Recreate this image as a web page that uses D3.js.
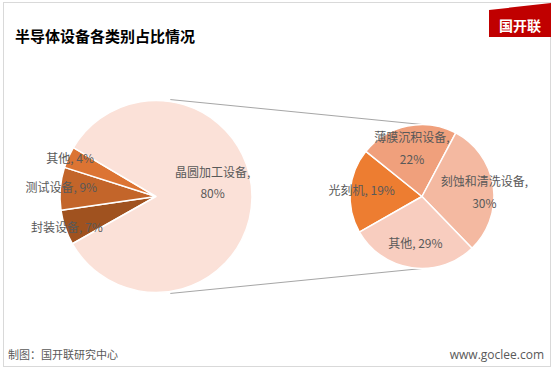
<!DOCTYPE html>
<html lang="zh">
<head>
    <meta charset="UTF-8">
    <title>半导体设备各类别占比情况</title>
    <script src="https://d3js.org/d3.v7.min.js"></script>
    <style>
        body { margin: 0; background: #fff; }
        svg { display: block; font-family: "Noto Sans CJK SC", "Noto Sans", sans-serif; }
        .label { font-size: 12px; fill: #595959; text-anchor: middle; dominant-baseline: central; }
        .title { font-size: 15px; font-weight: bold; fill: #000; }
        .footer { font-size: 11px; fill: #595959; }
    </style>
</head>
<body>
    <svg id="chart" width="554" height="370"></svg>

    <script>
        // main pie (clockwise, starting at lower left)
        const mainNames = ["封装设备", "测试设备", "其他", "晶圆加工设备"];
        const mainPct = ["7%", "9%", "4%", "80%"];
        const mainShare = [5.9, 7.2, 3.6, 83.3];
        const mainColors = ["#A0521F", "#C3652A", "#DC7433", "#FBE1D8"];

        // secondary pie: split of 晶圆加工设备
        const subNames = ["光刻机", "薄膜沉积设备", "刻蚀和清洗设备", "其他"];
        const subPct = ["19%", "22%", "30%", "29%"];
        const subShare = [19, 22, 30, 29];
        const subColors = ["#ED7D31", "#F0A07C", "#F4B9A1", "#F8CDBF"];

        const svg = d3.select("#chart");
        const deg = Math.PI / 180;

        // frame
        svg.append("rect")
            .attr("x", 3.5).attr("y", 2.5)
            .attr("width", 547).attr("height", 364)
            .attr("fill", "#fff")
            .attr("stroke", "#d9d9d9");

        svg.append("text")
            .attr("class", "title")
            .attr("x", 15).attr("y", 42)
            .text("半导体设备各类别占比情况");

        // logo tag
        svg.append("path")
            .attr("d", "M489,10 L551,3 L551,37 L489,37 Z")
            .attr("fill", "#C00000");
        svg.append("text")
            .attr("x", 520).attr("y", 25)
            .attr("text-anchor", "middle")
            .attr("dominant-baseline", "central")
            .attr("fill", "#fff")
            .style("font-size", "14px")
            .style("font-weight", "bold")
            .text("国开联");

        const main = { cx: 156, cy: 196.5, r: 96 };
        const sub = { cx: 422, cy: 196.5, r: 72 };

        // connector lines (drawn first so the pies sit on top)
        const connAngle = 8.4 * deg;
        const pt = (c, a, r) => [c.cx + r * Math.sin(a), c.cy - r * Math.cos(a)];
        const connectors = [
            [pt(main, connAngle, main.r + 2), [sub.cx, sub.cy - sub.r]],
            [pt(main, Math.PI - connAngle, main.r + 2), [sub.cx, sub.cy + sub.r]]
        ];
        svg.selectAll(".conn")
            .data(connectors)
            .join("line")
            .attr("class", "conn")
            .attr("x1", d => d[0][0]).attr("y1", d => d[0][1])
            .attr("x2", d => d[1][0]).attr("y2", d => d[1][1])
            .attr("stroke", "#a6a6a6")
            .attr("stroke-width", 1);

        function drawPie(c, shares, colors, start, names, pcts, labelR, labelDy, twoLine) {
            const pie = d3.pie().sort(null)
                .startAngle(start).endAngle(start + 2 * Math.PI);
            const arcs = pie(shares);
            const arc = d3.arc().innerRadius(0).outerRadius(c.r);
            const g = svg.append("g").attr("transform", `translate(${c.cx},${c.cy})`);

            g.selectAll("path")
                .data(arcs)
                .join("path")
                .attr("d", arc)
                .attr("fill", (d, i) => colors[i])
                .attr("stroke", "#fff")
                .attr("stroke-width", 1.5)
                .attr("stroke-linejoin", "round");

            arcs.forEach((d, i) => {
                const lr = labelR[i] * c.r;
                const a = (d.startAngle + d.endAngle) / 2;
                const x = lr * Math.sin(a), y = -lr * Math.cos(a) + labelDy[i];
                const t = g.append("text").attr("class", "label");
                if (twoLine[i]) {
                    t.append("tspan").attr("x", x).attr("y", y - 10.5).text(names[i] + ",");
                    t.append("tspan").attr("x", x).attr("y", y + 11).text(pcts[i]);
                } else {
                    t.attr("x", x).attr("y", y).text(names[i] + ", " + pcts[i]);
                }
            });
        }

        drawPie(main, mainShare, mainColors, 240.5 * deg, mainNames, mainPct,
            [0.98, 0.99, 0.98, 0.59], [0, -2, -1, -16], [false, false, false, true]);
        drawPie(sub, subShare, subColors, 240.4 * deg, subNames, subPct,
            [0.84, 0.69, 0.875, 0.65], [-2, -1, 3, 0], [false, true, true, false]);

        // footer
        svg.append("text")
            .attr("class", "footer")
            .attr("x", 8).attr("y", 359)
            .text("制图：国开联研究中心");
        svg.append("text")
            .attr("class", "footer")
            .attr("x", 544).attr("y", 359)
            .attr("text-anchor", "end")
            .style("font-size", "12px")
            .style("font-family", "\"Open Sans\", sans-serif")
            .text("www.goclee.com");
    </script>
</body>
</html>
